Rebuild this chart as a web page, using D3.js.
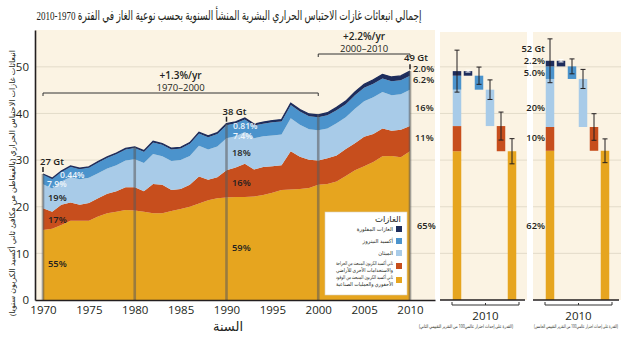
<!DOCTYPE html>
<html>
<head>
<meta charset="utf-8">
<script src="https://cdn.jsdelivr.net/npm/d3@7"></script>
<style>
body{margin:0;background:#fff}
svg{display:block}
text{font-family:"Open Sans","DejaVu Sans",sans-serif;fill:#231f20}
</style>
</head>
<body>
<div id="chart"></div>
<script>
const W = 623, H = 341;

// yearly emissions, GtCO2eq/yr (GWP100 SAR)
const years = [1970,1971,1972,1973,1974,1975,1976,1977,1978,1979,
  1980,1981,1982,1983,1984,1985,1986,1987,1988,1989,
  1990,1991,1992,1993,1994,1995,1996,1997,1998,1999,
  2000,2001,2002,2003,2004,2005,2006,2007,2008,2009,2010];
const co2Fossil = [15.0,15.3,16.1,17.0,17.0,17.0,17.9,18.6,18.9,19.3,
  19.2,18.9,18.6,18.6,19.1,19.5,20.0,20.7,21.4,21.8,
  22.0,22.1,22.1,22.2,22.5,23.0,23.6,23.7,23.8,24.0,
  24.7,24.9,25.4,26.6,27.8,28.7,29.6,30.8,30.9,30.6,31.9];
const co2Folu = [4.7,3.6,4.3,3.9,3.4,3.8,3.9,4.2,4.4,4.9,
  5.0,4.4,6.3,6.1,4.5,4.3,4.7,5.8,4.4,4.5,
  5.8,6.3,7.1,5.8,6.0,5.7,5.3,8.2,6.9,6.1,
  5.2,5.5,5.6,5.8,5.8,6.3,6.0,6.0,5.4,5.9,5.4];
const methane = [5.1,5.0,5.0,5.5,5.5,5.4,5.4,5.4,5.6,5.7,
  6.0,6.1,6.4,6.1,6.2,6.2,6.2,6.6,6.5,6.6,
  6.9,6.7,6.8,6.7,6.6,6.6,6.6,7.1,6.9,6.5,
  6.5,6.4,6.9,6.8,7.4,7.6,7.9,7.8,7.6,7.6,7.8];
const nitrous = [2.1,2.1,2.1,2.2,2.2,2.2,2.3,2.3,2.4,2.4,
  2.4,2.4,2.5,2.5,2.5,2.5,2.6,2.6,2.6,2.7,
  2.8,2.8,2.7,2.7,2.7,2.8,2.8,2.8,2.8,2.8,
  2.8,2.8,2.8,2.8,2.9,2.9,2.9,2.9,3.0,3.0,3.0];
const fgases = [0.12,0.13,0.14,0.15,0.16,0.17,0.18,0.19,0.20,0.21,
  0.22,0.22,0.23,0.23,0.24,0.25,0.26,0.27,0.28,0.29,
  0.31,0.31,0.32,0.33,0.35,0.37,0.40,0.43,0.46,0.49,
  0.52,0.56,0.60,0.65,0.71,0.77,0.83,0.89,0.92,0.95,0.98];

const gasKeys = ["ff","folu","ch4","n2o","fg"];
const gasColors = {ff:"#e6a51f", folu:"#c74e1d", ch4:"#a8cbe8", n2o:"#4b93cc", fg:"#1e2d5c"};
const gasNames = {
  fg:"الغازات المفلورة",
  n2o:"أكسيد النيتروز",
  ch4:"الميثان",
  folu:["ثاني أكسيد الكربون المنبعث من الحراجة","والاستخدامات الأخرى للأراضي"],
  ff:["ثاني أكسيد الكربون المنبعث من الوقود","الأحفوري والعمليات الصناعية"]
};

// 2010 side panels (ff, folu, ch4, n2o, fg) and their uncertainty (+/-)
const sar2010 = [31.9,5.4,7.8,3.0,0.98];
const sarErr = [2.7,3.0,2.1,1.85,0.2];
const sarTotalErr = 4.5;
const ar52010 = [32.0,5.1,10.3,2.7,1.2];
const ar5Err = [2.55,2.85,2.05,1.6,0.25];
const ar5TotalErr = 4.7;

const yTicks = [0,10,20,30,40,50];
const xTicks = [1970,1975,1980,1985,1990,1995,2000,2005,2010];
const decadeYears = [1970,1980,1990,2000,2010];

const rows = years.map((yr,i) => ({year:yr, ff:co2Fossil[i], folu:co2Folu[i], ch4:methane[i], n2o:nitrous[i], fg:fgases[i]}));
const totalOf = r => gasKeys.reduce((s,k) => s + r[k], 0);

const svg = d3.select("#chart").append("svg").attr("width",W).attr("height",H);

const x = d3.scaleLinear().domain([1969.128, 2012.725]).range([35,435]);
const y = d3.scaleLinear().domain([0,57.9]).range([300,30]);

// backgrounds
const bg = "#fbf3e3";
svg.append("rect").attr("x",35).attr("y",30).attr("width",400).attr("height",270).attr("fill",bg);
const panels = [
  {x0:440, w:87, vals:sar2010, err:sarErr, terr:sarTotalErr},
  {x0:533, w:88, vals:ar52010, err:ar5Err, terr:ar5TotalErr}
];
panels.forEach(p => svg.append("rect").attr("x",p.x0).attr("y",32).attr("width",p.w).attr("height",268).attr("fill",bg));

// grid
yTicks.slice(1).forEach(v => {
  svg.append("line").attr("x1",35).attr("x2",435).attr("y1",y(v)).attr("y2",y(v)).attr("stroke","#ddd5c4").attr("stroke-width",0.8);
  panels.forEach(p => svg.append("line").attr("x1",p.x0).attr("x2",p.x0+p.w).attr("y1",y(v)).attr("y2",y(v)).attr("stroke","#ddd5c4").attr("stroke-width",0.8));
});

// stacked areas
const series = d3.stack().keys(gasKeys)(rows);
const area = d3.area().x(d => x(d.data.year)).y0(d => y(d[0])).y1(d => y(d[1]));
svg.append("g").selectAll("path").data(series).join("path")
  .attr("d",area).attr("fill",d => gasColors[d.key]);
svg.append("path").datum(rows)
  .attr("d", d3.line().x(d => x(d.year)).y(d => y(totalOf(d))))
  .attr("fill","none").attr("stroke","#1e2d5c").attr("stroke-width",1.3);

// decade lines
decadeYears.forEach(yr => {
  const r = rows.find(d => d.year === yr);
  svg.append("line").attr("x1",x(yr)).attr("x2",x(yr)).attr("y1",y(0)).attr("y2",y(totalOf(r)))
    .attr("stroke","#5a5a5a").attr("stroke-opacity",0.55).attr("stroke-width",2.6);
});

// axes
const yAxis = svg.append("g").attr("transform","translate(35,0)")
  .call(d3.axisLeft(y).tickValues(yTicks).tickSize(0).tickPadding(6));
const xAxis = svg.append("g").attr("transform","translate(0,300)")
  .call(d3.axisBottom(x).tickValues(xTicks).tickSize(0).tickPadding(6).tickFormat(d3.format("d")));
[yAxis,xAxis].forEach(a => {
  a.select(".domain").attr("stroke","#231f20").attr("stroke-width",1.6);
  a.selectAll("text").attr("font-size",11.5).attr("fill","#231f20").style("font-family","Open Sans");
});

// axis titles
svg.append("text").attr("transform","translate(15,183) rotate(-90)")
  .attr("direction","rtl").attr("text-anchor","middle").attr("font-size",8)
  .attr("textLength",266).attr("lengthAdjust","spacingAndGlyphs")
  .attr("fill","#444")
  .text("انبعاثات غازات الاحتباس الحراري (بالغيغاطن من مكافئ ثاني أكسيد الكربون سنويا)");
svg.append("text").attr("x",228).attr("y",331).attr("direction","rtl").attr("text-anchor","middle")
  .attr("font-size",13).text("السنة");

// title
svg.append("text").attr("x",229).attr("y",20).attr("direction","rtl").attr("text-anchor","middle")
  .attr("font-size",13.5).attr("textLength",385).attr("lengthAdjust","spacingAndGlyphs")
  .style("font-family","'Liberation Serif','DejaVu Sans',serif")
  .text("إجمالي انبعاثات غازات الاحتباس الحراري البشرية المنشأ السنوية بحسب نوعية الغاز في الفترة 1970-2010");

// growth-rate brackets
function bracket(x1, x2, yy, rate, span, ty) {
  svg.append("path").attr("d",`M${x1},${yy+3}V${yy}H${x2}V${yy+3}`).attr("fill","none").attr("stroke","#333").attr("stroke-width",1);
  svg.append("text").attr("x",(x1+x2)/2).attr("y",ty).attr("text-anchor","middle").attr("font-size",10).attr("font-weight",600).text(rate);
  svg.append("text").attr("x",(x1+x2)/2).attr("y",ty+11.5).attr("text-anchor","middle").attr("font-size",9.5).text(span);
}
bracket(x(1970), x(2000), 93, "+1.3%/yr", "1970–2000", 79);
bracket(x(2000), x(2010), 54, "+2.2%/yr", "2000–2010", 40);

// total markers
[[1970,"27 Gt",-3,-9],[1990,"38 Gt",-4,-9],[2010,"49 Gt",-6,-10]].forEach(([yr,lab,dx,dy]) => {
  const t = totalOf(rows.find(d => d.year === yr));
  svg.append("line").attr("x1",x(yr)).attr("x2",x(yr)).attr("y1",y(t)-7).attr("y2",y(t)-2).attr("stroke","#231f20").attr("stroke-width",1.5);
  svg.append("text").attr("x",x(yr)+dx).attr("y",y(t)+dy).attr("font-size",9.5).attr("font-weight",600).text(lab);
});

// share labels
const pctLabels = [
  {t:"0.44%",x:60,y:177.5,c:"#eef5fb"},{t:"7.9%",x:47,y:187,c:"#eef5fb"},{t:"19%",x:48,y:200.5},
  {t:"17%",x:48,y:222.5},{t:"55%",x:48,y:266.5},
  {t:"0.81%",x:233,y:129,c:"#eef5fb"},{t:"7.4%",x:233,y:138.5,c:"#eef5fb"},{t:"18%",x:232,y:155.5},
  {t:"16%",x:232,y:185.5},{t:"59%",x:232,y:250.5},
  {t:"2.0%",x:413,y:71.5},{t:"6.2%",x:413,y:83},{t:"16%",x:415,y:110.5},{t:"11%",x:415,y:140.5},{t:"65%",x:417,y:228.5},
  {t:"52 Gt",x:545,y:52,a:"end"},{t:"2.2%",x:545,y:63.5,a:"end"},{t:"5.0%",x:545,y:75.5,a:"end"},
  {t:"20%",x:545,y:110.5,a:"end"},{t:"10%",x:545,y:140.5,a:"end"},{t:"62%",x:545,y:228.5,a:"end"}
];
svg.append("g").selectAll("text").data(pctLabels).join("text")
  .attr("x",d => d.x).attr("y",d => d.y).attr("text-anchor",d => d.a || "start")
  .attr("font-size",d => d.c ? 8.6 : 9.3).attr("font-weight",600).style("fill",d => d.c || "#231f20").text(d => d.t);

// legend
const lg = svg.append("g");
lg.append("rect").attr("x",325).attr("y",212).attr("width",82).attr("height",83).attr("fill","#fff").attr("stroke","#d9cfbd").attr("stroke-width",0.6);
lg.append("text").attr("x",401).attr("y",222).attr("direction","rtl").attr("text-anchor","start").attr("font-size",8.5).text("الغازات");
const legOrder = ["fg","n2o","ch4","folu","ff"];
const legY = [229,241,253,266,280];
legOrder.forEach((k,i) => {
  lg.append("rect").attr("x",396).attr("y",legY[i]-3).attr("width",6).attr("height",6).attr("fill",gasColors[k]);
  const lines = Array.isArray(gasNames[k]) ? gasNames[k] : [gasNames[k]];
  lines.forEach((s,j) => {
    const t = lg.append("text").attr("x",393).attr("y",legY[i] + 2 + (j - (lines.length-1)/2)*7)
      .attr("direction","rtl").attr("text-anchor","start").attr("font-size",5.3).attr("fill","#333").text(s);
    if (lines.length > 1) t.attr("textLength",57).attr("lengthAdjust","spacingAndGlyphs");
  });
});

// side panels
const cats = ["total","fg","n2o","ch4","folu","ff"];
const panelLabels = [
  {t:"(القدرة على إحداث احترار عالمي100 من التقرير التقييمي الثاني)", cx:466, len:94},
  {t:"(القدرة على إحداث احترار عالمي100 من التقرير التقييمي الخامس)", cx:576, len:84}
];
function whisker(g, cx, lo, hi, col) {
  g.append("path").attr("d",`M${cx-2.5},${y(hi)}H${cx+2.5}M${cx},${y(hi)}V${y(lo)}M${cx-2.5},${y(lo)}H${cx+2.5}`)
    .attr("fill","none").attr("stroke",col).attr("stroke-width",1);
}
panels.forEach((p,pi) => {
  const g = svg.append("g");
  const px = d3.scalePoint().domain(cats).range([p.x0+17, p.x0+72]);
  const bw = 8.5;
  const v = {ff:p.vals[0], folu:p.vals[1], ch4:p.vals[2], n2o:p.vals[3], fg:p.vals[4]};
  const e = {ff:p.err[0], folu:p.err[1], ch4:p.err[2], n2o:p.err[3], fg:p.err[4]};
  const st = d3.stack().keys(gasKeys)([v]);
  // stacked total bar
  g.selectAll("rect.stk").data(st).join("rect").attr("class","stk")
    .attr("x",px("total")-bw/2).attr("width",bw)
    .attr("y",d => y(d[0][1])).attr("height",d => y(d[0][0]) - y(d[0][1]))
    .attr("fill",d => gasColors[d.key]);
  // waterfall bars
  g.selectAll("rect.wf").data(st).join("rect").attr("class","wf")
    .attr("x",d => px(d.key)-bw/2).attr("width",bw)
    .attr("y",d => y(d[0][1])).attr("height",d => y(d[0][0]) - y(d[0][1]))
    .attr("fill",d => gasColors[d.key]);
  st.forEach(d => {
    const top = d[0][1];
    whisker(g, px(d.key), top - e[d.key], top + e[d.key], d.key === "fg" ? "#fff" : "#231f20");
  });
  const tot = st[st.length-1][0][1];
  whisker(g, px("total"), tot - p.terr, tot + p.terr, "#231f20");
  // axis line & bracket
  g.append("line").attr("x1",p.x0).attr("x2",p.x0+p.w-2).attr("y1",300).attr("y2",300).attr("stroke","#231f20").attr("stroke-width",1.6);
  const bx1 = p.x0+12, bx2 = p.x0+79;
  g.append("path").attr("d",`M${bx1},${302}V${305}H${bx2}V${302}M${(bx1+bx2)/2},305V303`).attr("fill","none").attr("stroke","#333").attr("stroke-width",1);
  g.append("text").attr("x",(bx1+bx2)/2).attr("y",320).attr("text-anchor","middle").attr("font-size",11.5).text("2010");
  g.append("text").attr("x",panelLabels[pi].cx).attr("y",328).attr("direction","rtl").attr("text-anchor","middle")
    .attr("font-size",4.8).attr("textLength",panelLabels[pi].len).attr("lengthAdjust","spacingAndGlyphs")
    .attr("fill","#333").text(panelLabels[pi].t);
});
</script>
</body>
</html>
